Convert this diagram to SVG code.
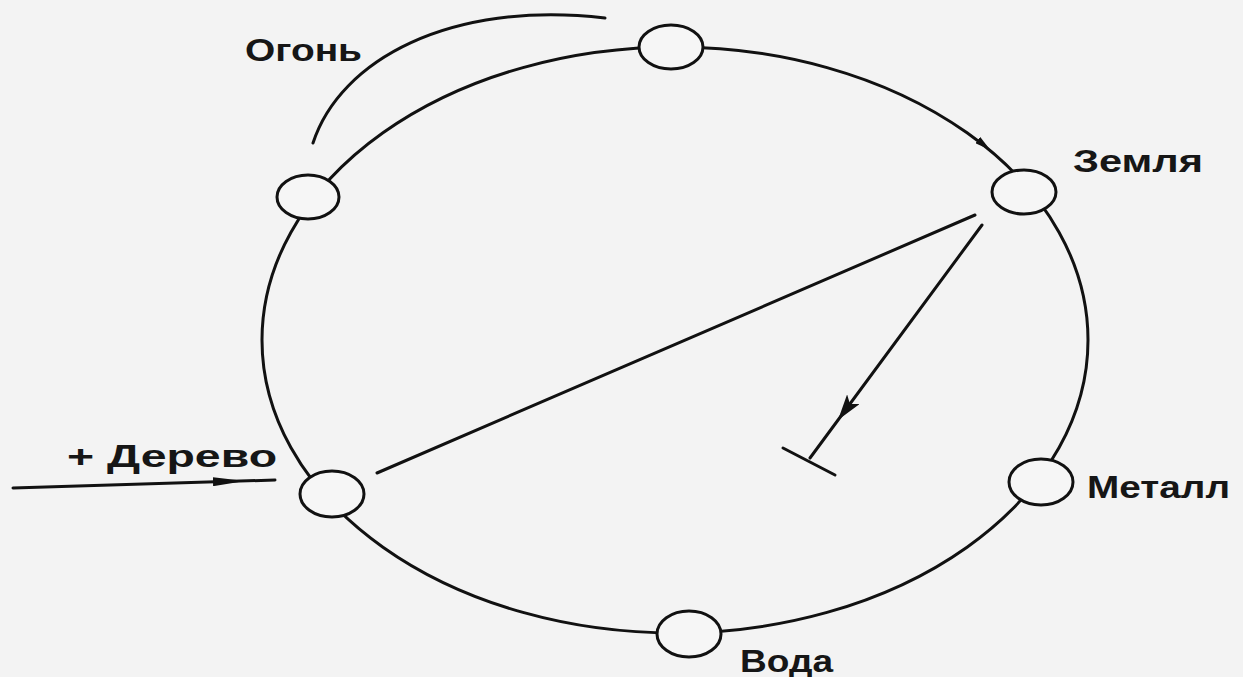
<svg xmlns="http://www.w3.org/2000/svg" width="1243" height="677" viewBox="0 0 1243 677">
<style>
.ln{fill:none;stroke:#111;stroke-width:3;stroke-linecap:round}
.nd{fill:#f6f6f6;stroke:#111;stroke-width:3}
.lb{font-family:"Liberation Sans",Arial,sans-serif;font-weight:bold;font-size:32px;fill:#161616}
</style>
<defs>
<marker id="ah" viewBox="0 0 16 8" refX="8" refY="4" markerWidth="16" markerHeight="8" orient="auto" markerUnits="userSpaceOnUse">
<path d="M0,0 L16,4 L0,8 Z" fill="#111"/>
</marker>
<marker id="ahb" viewBox="0 0 26 16" refX="26" refY="8" markerWidth="26" markerHeight="16" orient="auto" markerUnits="userSpaceOnUse">
<path d="M0,0 L26,8 L0,16 L6,8 Z" fill="#111"/>
</marker>
<marker id="ahs" viewBox="0 0 32 9" refX="32" refY="4.5" markerWidth="32" markerHeight="9" orient="auto" markerUnits="userSpaceOnUse">
<path d="M0,0 L32,4.5 L0,9 Z" fill="#111"/>
</marker>
</defs>
<rect width="1243" height="677" fill="#f3f3f3"/>
<g id="connectors">
<ellipse class="ln" cx="675" cy="340" rx="413" ry="293"/>
<path class="ln" d="M313,143 C340,60 450,0 605,18"/>
<path d="M970,134 L984,145" fill="none" stroke="none" marker-end="url(#ah)"/>
<line class="ln" x1="975" y1="215" x2="377" y2="473"/>
<line class="ln" x1="982" y1="225" x2="810" y2="458"/>
<path d="M870,377 L838,420" fill="none" stroke="none" marker-end="url(#ahb)"/>
<line class="ln" x1="783" y1="448" x2="835" y2="475"/>
<line class="ln" x1="13" y1="488" x2="275" y2="480"/>
<path d="M200,482 L245,481" fill="none" stroke="none" marker-end="url(#ahs)"/>
</g>
<g id="node-top"><ellipse class="nd" cx="671" cy="47" rx="32" ry="22"/></g>
<g id="node-ogon"><ellipse class="nd" cx="308" cy="197" rx="31" ry="22"/><text class="lb" x="245" y="61" textLength="117" lengthAdjust="spacingAndGlyphs">Огонь</text></g>
<g id="node-zemlya"><ellipse class="nd" cx="1024" cy="192" rx="32" ry="22"/><text class="lb" x="1073" y="172" textLength="130" lengthAdjust="spacingAndGlyphs">Земля</text></g>
<g id="node-derevo"><ellipse class="nd" cx="332" cy="494" rx="32" ry="23"/><text class="lb" x="67" y="467" textLength="210" lengthAdjust="spacingAndGlyphs">+ Дерево</text></g>
<g id="node-metall"><ellipse class="nd" cx="1041" cy="482" rx="32" ry="23"/><text class="lb" x="1087" y="498" textLength="143" lengthAdjust="spacingAndGlyphs">Металл</text></g>
<g id="node-voda"><ellipse class="nd" cx="689" cy="634" rx="32" ry="23"/><text class="lb" x="740" y="672" textLength="93" lengthAdjust="spacingAndGlyphs">Вода</text></g>
</svg>
